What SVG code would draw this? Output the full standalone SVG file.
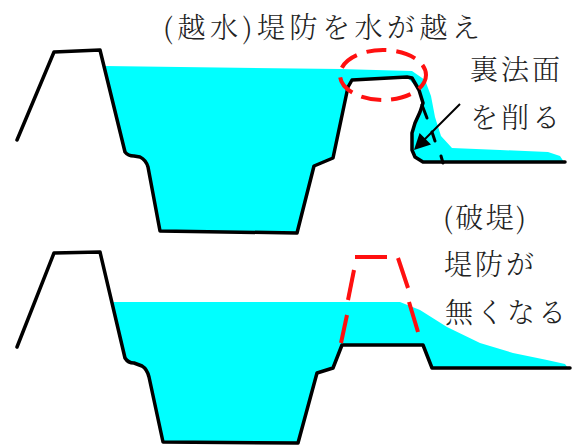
<svg xmlns="http://www.w3.org/2000/svg" width="577" height="445" viewBox="0 0 577 445">
  <style>
    .water { fill: #00ffff; stroke: none; }
    .bank { fill: none; stroke: #000; stroke-width: 3.5; stroke-linejoin: round; stroke-linecap: round; }
    .red { fill: none; stroke: #ff1010; stroke-width: 4; }
    .label { font-family: "Noto Serif CJK JP", "Noto Sans CJK JP", "Noto Sans CJK SC", sans-serif; font-size: 28px; font-weight: 300; fill: #222; }
  </style>
  <rect width="577" height="445" fill="#fff"/>

  <!-- Upper section: overtopping -->
  <g id="overtopping">
    <path class="water" d="M105,66 L126,153 Q129,156 134,156 L141,158 Q146,161 148,168 L160,231 L297,233 L314,166 L333,158 L348,87 L352,80 L407,77 L419,90 L423,103 L420,112 L415,123 L412,133 L412,150 L415,157 L423,162 L564,162 L560,156 L548,152 L500,150 L452,148 L441,136 L435,117 L431,96 L425,80 L412,71 L340,69 Z"/>
    <path class="bank" d="M17,140 L54,52 L100,50 L125,152 Q128,156 134,156 L140,157 Q146,160 148,167 L160,231 L297,233 L314,166 L333,158 L348,87 L352,80 L407,77 L412,78 L419,90 L423,103 L420,112 L415,123 L412,133 L412,150 L415,157 L423,162 L565,162"/>
    <!-- original slope face, now eroded -->
    <g stroke="#000" stroke-width="3" stroke-linecap="round">
      <line x1="422" y1="105" x2="427" y2="118"/>
      <line x1="432" y1="132" x2="435" y2="141"/>
      <line x1="441" y1="156" x2="443" y2="163"/>
    </g>
    <ellipse class="red" cx="383" cy="75" rx="43" ry="25" stroke-dasharray="20 10" stroke-dashoffset="4"/>
  </g>

  <!-- Lower section: breach -->
  <g id="breach">
    <path class="water" d="M113,302 L125,358 Q128,363 134,363 L142,366 Q147,369 149,377 L163,442 L298,443 L317,373 L333,368 L342,345 L423,345 L432,368 L568,368 L565,364 L547,360 L513,353 L480,343 L447,327 L420,310 L400,302 Z"/>
    <path class="bank" d="M17,347 L54,253 L100,252 L125,358 Q128,363 134,363 L142,366 Q147,369 149,377 L163,442 L298,443 L317,373 L333,368 L342,345 L423,345 L432,368 L570,368"/>
    <g class="red" stroke-linecap="butt">
      <line x1="355" y1="257" x2="387" y2="257"/>
      <line x1="354" y1="270" x2="348" y2="300"/>
      <line x1="347" y1="315" x2="341" y2="343"/>
      <line x1="398" y1="258" x2="408" y2="288"/>
      <line x1="409" y1="302" x2="418" y2="332"/>
    </g>
  </g>

  <!-- Pointer to the eroded back slope -->
  <g id="connectors">
    <line x1="460" y1="104" x2="424" y2="140" stroke="#000" stroke-width="2"/>
    <polygon points="414,150 419.6,133 431,144.4" fill="#000"/>
  </g>

  <g id="labels">
    <text class="label" x="163" y="38" textLength="317" lengthAdjust="spacing">(越水)堤防を水が越え</text>
    <text class="label" x="470" y="80" textLength="90" lengthAdjust="spacing">裏法面</text>
    <text class="label" x="470" y="128" textLength="90" lengthAdjust="spacing">を削る</text>
    <text class="label" x="443" y="228" textLength="83" lengthAdjust="spacing">(破堤)</text>
    <text class="label" x="444" y="275" textLength="90" lengthAdjust="spacing">堤防が</text>
    <text class="label" x="445" y="323" textLength="121" lengthAdjust="spacing">無くなる</text>
  </g>
</svg>
